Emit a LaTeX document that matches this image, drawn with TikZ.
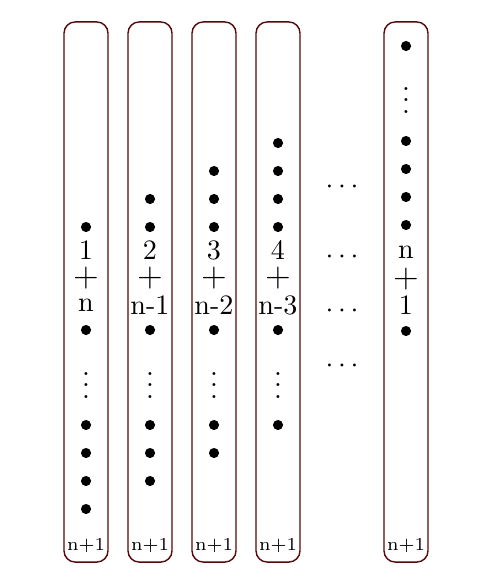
\documentclass[tikz,border=0pt]{standalone}
\definecolor{BordeColumna}{RGB}{85,8,8}

\begin{document}
\begin{tikzpicture}[x=0.0125cm, y=-0.0125cm,
  columna/.style={draw=BordeColumna, line width=0.5pt, rounded corners=4pt,
                  minimum width=0.55cm, minimum height=6.75cm, inner sep=0pt},
  punto/.style={circle, fill=black, inner sep=0pt, minimum size=3.6pt},
  etiqueta/.style={inner sep=0pt, font=\normalsize},
  signo/.style={inner sep=0pt, font=\large},
  pie/.style={inner sep=0pt, font=\fontsize{6.5pt}{8pt}\selectfont}]

\useasboundingbox (0,0) rectangle (500,586);

%% Columna 1
\node[columna] (col1) at (86,292) {};
\node[punto] (c1a1) at (86,227) {};
\node[etiqueta] (c1num) at (86,250) {1};
\node[signo] (c1mas) at (86,278) {+};
\node[etiqueta] (c1n) at (86,305) {n};
\node[punto] (c1b) at (86,330) {};
\node[etiqueta] (c1v) at (86,377) {$\vdots$};
\foreach \y [count=\i] in {425,453,481,509}
  \node[punto] (c1c\i) at (86,\y) {};
\node[pie] (c1pie) at (86,546) {n+1};

%% Columna 2
\node[columna] (col2) at (150,292) {};
\foreach \y [count=\i] in {199,227}
  \node[punto] (c2a\i) at (150,\y) {};
\node[etiqueta] (c2num) at (150,250) {2};
\node[signo] (c2mas) at (150,278) {+};
\node[etiqueta] (c2n) at (150,305) {n-1};
\node[punto] (c2b) at (150,330) {};
\node[etiqueta] (c2v) at (150,377) {$\vdots$};
\foreach \y [count=\i] in {425,453,481}
  \node[punto] (c2c\i) at (150,\y) {};
\node[pie] (c2pie) at (150,546) {n+1};

%% Columna 3
\node[columna] (col3) at (214,292) {};
\foreach \y [count=\i] in {171,199,227}
  \node[punto] (c3a\i) at (214,\y) {};
\node[etiqueta] (c3num) at (214,250) {3};
\node[signo] (c3mas) at (214,278) {+};
\node[etiqueta] (c3n) at (214,305) {n-2};
\node[punto] (c3b) at (214,330) {};
\node[etiqueta] (c3v) at (214,377) {$\vdots$};
\foreach \y [count=\i] in {425,453}
  \node[punto] (c3c\i) at (214,\y) {};
\node[pie] (c3pie) at (214,546) {n+1};

%% Columna 4
\node[columna] (col4) at (278,292) {};
\foreach \y [count=\i] in {143,171,199,227}
  \node[punto] (c4a\i) at (278,\y) {};
\node[etiqueta] (c4num) at (278,250) {4};
\node[signo] (c4mas) at (278,278) {+};
\node[etiqueta] (c4n) at (278,305) {n-3};
\node[punto] (c4b) at (278,330) {};
\node[etiqueta] (c4v) at (278,377) {$\vdots$};
\node[punto] (c4c1) at (278,425) {};
\node[pie] (c4pie) at (278,546) {n+1};

% Puntos suspensivos entre columnas
\foreach \y [count=\i] in {187,257,311,366}
  \node[etiqueta] (susp\i) at (342,\y) {$\cdots$};

%% Columna n+1
\node[columna] (col5) at (406,292) {};
\node[punto] (c5top) at (406,46) {};
\node[etiqueta] (c5v) at (406,92) {$\vdots$};
\foreach \y [count=\i] in {141,169,197,225}
  \node[punto] (c5a\i) at (406,\y) {};
\node[etiqueta] (c5n) at (406,252) {n};
\node[signo] (c5mas) at (406,279) {+};
\node[etiqueta] (c5num) at (406,305) {1};
\node[punto] (c5b) at (406,331) {};
\node[pie] (c5pie) at (406,546) {n+1};

\end{tikzpicture}
\end{document}
